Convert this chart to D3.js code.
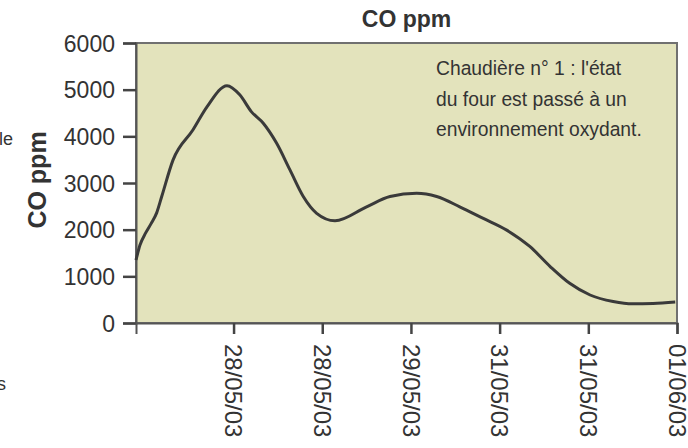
<!DOCTYPE html>
<html>
<head>
<meta charset="utf-8">
<script src="https://cdn.jsdelivr.net/npm/d3@7"></script>
<style>
  body { margin: 0; background: #fff; }
  text { font-family: "Liberation Sans", Arial, sans-serif; fill: #333; }
</style>
</head>
<body>
<div id="chart"></div>
<script>
// sample index along the time axis (one unit = one reading)
var sampleIdx = [0, 0.45, 1.09, 1.7, 2.33, 2.9, 4.17, 6.43, 8.0, 10.26, 11.7, 13.0, 14.35, 15.86,
  17.36, 18.86, 20.37, 22.44, 26.0, 28.64, 31.65, 33.9, 36.5, 39.16, 41.8, 44.4, 46.7, 48.9,
  51.2, 53.8, 56.0, 58.3, 60.8];
var coValues = [1350, 1670, 1930, 2130, 2360, 2710, 3490, 4140, 4630, 5085, 4890, 4530, 4280, 3850,
  3280, 2710, 2350, 2190, 2490, 2710, 2780, 2710, 2490, 2240, 1990, 1640, 1210, 850,
  600, 460, 410, 420, 450];
var dateTicks = [11, 21, 31, 41, 51, 61];
var dateLabels = ['28/05/03', '28/05/03', '29/05/03', '31/05/03', '31/05/03', '01/06/03'];
var yTicks = [0, 1000, 2000, 3000, 4000, 5000, 6000];
var noteLines = ["Chaudière n° 1 : l'état", 'du four est passé à un', 'environnement oxydant.'];

var W = 688, H = 448;
var margin = { top: 43, left: 136, right: 11, bottom: 125 };
var w = W - margin.left - margin.right;
var h = H - margin.top - margin.bottom;

var svg = d3.select('#chart').append('svg')
  .attr('width', W).attr('height', H);

// bits of neighbouring text cut off at the left edge
svg.append('text').attr('x', -1).attr('y', 145).style('font-size', '18px').text('le');
svg.append('text').attr('x', -3).attr('y', 390).style('font-size', '18px').text('s');

var g = svg.append('g').attr('transform', 'translate(' + margin.left + ',' + margin.top + ')');

var x = d3.scaleLinear().domain([0, 61]).range([0, w]);
var y = d3.scaleLinear().domain([0, 6000]).range([h, 0]);

g.append('rect')
  .attr('width', w).attr('height', h)
  .attr('fill', '#e3e3bc')
  .attr('stroke', '#707070').attr('stroke-width', 2);

var yAxis = g.append('g')
  .call(d3.axisLeft(y).tickValues(yTicks).tickSize(13).tickPadding(8).tickFormat(d3.format('d')));
yAxis.selectAll('text').style('font-size', '23px').attr('dy', '0.36em');

var xAxis = g.append('g').attr('transform', 'translate(0,' + h + ')')
  .call(d3.axisBottom(x).tickValues(dateTicks).tickSize(11)
    .tickFormat(function (d, i) { return dateLabels[i]; }));
xAxis.selectAll('text')
  .style('font-size', '24px')
  .attr('text-anchor', 'start')
  .attr('transform', 'rotate(90)')
  .attr('x', 21).attr('y', 0).attr('dy', '0.36em');

g.selectAll('.domain').attr('stroke', '#555').attr('stroke-width', 2);
g.selectAll('.tick line').attr('stroke', '#444').attr('stroke-width', 2.5);

var line = d3.line()
  .x(function (d, i) { return x(sampleIdx[i]); })
  .y(function (d) { return y(d); })
  .curve(d3.curveMonotoneX);

g.append('path')
  .datum(coValues)
  .attr('d', line)
  .attr('fill', 'none')
  .attr('stroke', '#3a3a3a')
  .attr('stroke-width', 3);

// title
svg.append('text')
  .attr('x', margin.left + w / 2).attr('y', 27)
  .attr('text-anchor', 'middle')
  .style('font-size', '23px').style('font-weight', 'bold')
  .text('CO ppm');

// y label
svg.append('text')
  .attr('transform', 'translate(46,' + (margin.top + h / 2 - 3) + ') rotate(-90)')
  .attr('text-anchor', 'middle')
  .style('font-size', '25px').style('font-weight', 'bold')
  .text('CO ppm');

// note
svg.append('g').selectAll('text')
  .data(noteLines)
  .enter().append('text')
  .attr('x', 436)
  .attr('y', function (d, i) { return 75 + i * 30.5; })
  .style('font-size', '19.3px')
  .text(function (d) { return d; });
</script>
</body>
</html>
